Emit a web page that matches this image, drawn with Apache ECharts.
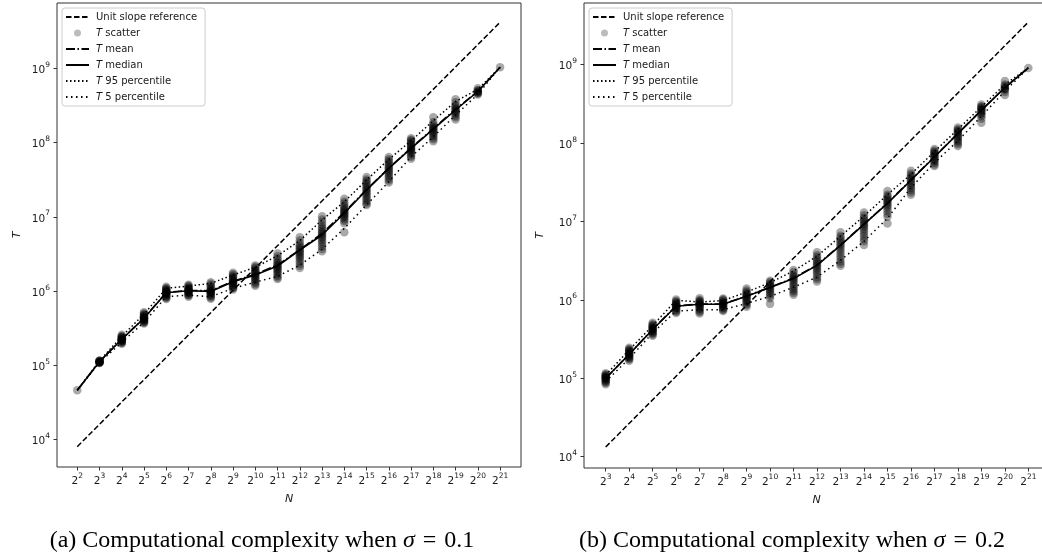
<!DOCTYPE html>
<html><head><meta charset="utf-8">
<script src="https://cdn.jsdelivr.net/npm/echarts@6.0.0/dist/echarts.min.js"></script>
<style>html,body{margin:0;padding:0;background:#fff}#c{width:1042px;height:556px}</style>
</head><body><div id="c"></div><script>
// ---------- data ----------
const nLeft = [4, 8, 16, 32, 64, 128, 256, 512, 1024, 2048, 4096, 8192, 16384, 32768, 65536, 131072, 262144, 524288, 1048576, 2097152];
const nRight = [8, 16, 32, 64, 128, 256, 512, 1024, 2048, 4096, 8192, 16384, 32768, 65536, 131072, 262144, 524288, 1048576, 2097152];
const yTickValues = [1e4, 1e5, 1e6, 1e7, 1e8, 1e9];

// unit slope reference endpoints
const refLeft = [[4, 8.0e3], [2097152, 4.2e9]];
const refRight = [[8, 1.33e4], [2097152, 3.49e9]];

// sigma = 0.1
const medianLeft = [4.6e4, 1.12e5, 2.24e5, 4.3e5, 9.5e5, 1.01e6, 9.9e5, 1.34e6, 1.65e6, 2.18e6, 3.58e6, 5.7e6, 1.12e7, 2.3e7, 4.5e7, 8.4e7, 1.52e8, 2.76e8, 4.9e8, 1.04e9];
const meanLeft = [4.6e4, 1.12e5, 2.25e5, 4.35e5, 9.6e5, 1.02e6, 1.01e6, 1.36e6, 1.68e6, 2.25e6, 3.6e6, 6.0e6, 1.15e7, 2.35e7, 4.55e7, 8.5e7, 1.55e8, 2.85e8, 4.9e8, 1.04e9];
const p95Left = [4.6e4, 1.15e5, 2.45e5, 4.9e5, 1.09e6, 1.17e6, 1.27e6, 1.65e6, 2.09e6, 3.0e6, 4.8e6, 9.1e6, 1.6e7, 3.14e7, 5.97e7, 1.06e8, 1.98e8, 3.6e8, 5.25e8, 1.04e9];
const p5Left = [4.6e4, 1.09e5, 2.04e5, 3.8e5, 8.4e5, 8.85e5, 8.4e5, 1.09e6, 1.32e6, 1.58e6, 2.24e6, 3.66e6, 7.0e6, 1.45e7, 2.98e7, 6.46e7, 1.2e8, 2.36e8, 4.49e8, 1.04e9];
const scatterLeft = [
  [4.6e4],
  [1.07e5, 1.08e5, 1.09e5, 1.10e5, 1.11e5, 1.12e5, 1.12e5, 1.13e5, 1.14e5, 1.15e5, 1.16e5],
  [1.95e5, 2.0e5, 2.05e5, 2.09e5, 2.12e5, 2.15e5, 2.18e5, 2.21e5, 2.24e5, 2.27e5, 2.30e5, 2.34e5, 2.38e5, 2.43e5, 2.48e5, 2.57e5],
  [3.65e5, 3.75e5, 3.85e5, 3.93e5, 4.0e5, 4.08e5, 4.15e5, 4.22e5, 4.3e5, 4.37e5, 4.45e5, 4.52e5, 4.6e5, 4.72e5, 4.85e5, 5.0e5, 5.2e5],
  [7.8e5, 8.1e5, 8.3e5, 8.55e5, 8.8e5, 9.0e5, 9.2e5, 9.35e5, 9.5e5, 9.65e5, 9.8e5, 1.0e6, 1.02e6, 1.05e6, 1.07e6, 1.1e6, 1.14e6],
  [8.4e5, 8.7e5, 8.9e5, 9.15e5, 9.4e5, 9.6e5, 9.8e5, 9.95e5, 1.01e6, 1.025e6, 1.04e6, 1.06e6, 1.08e6, 1.11e6, 1.14e6, 1.18e6, 1.22e6],
  [7.9e5, 8.2e5, 8.5e5, 8.8e5, 9.1e5, 9.35e5, 9.6e5, 9.75e5, 9.9e5, 1.01e6, 1.03e6, 1.06e6, 1.1e6, 1.15e6, 1.2e6, 1.26e6, 1.32e6],
  [1.05e6, 1.09e6, 1.12e6, 1.16e6, 1.2e6, 1.24e6, 1.28e6, 1.31e6, 1.34e6, 1.37e6, 1.4e6, 1.45e6, 1.5e6, 1.56e6, 1.62e6, 1.69e6, 1.76e6],
  [1.18e6, 1.24e6, 1.3e6, 1.36e6, 1.42e6, 1.48e6, 1.54e6, 1.6e6, 1.65e6, 1.7e6, 1.75e6, 1.81e6, 1.88e6, 1.96e6, 2.05e6, 2.13e6, 2.22e6],
  [1.46e6, 1.53e6, 1.6e6, 1.69e6, 1.78e6, 1.86e6, 1.95e6, 2.02e6, 2.1e6, 2.18e6, 2.25e6, 2.35e6, 2.45e6, 2.6e6, 2.75e6, 2.95e6, 3.2e6],
  [2.05e6, 2.2e6, 2.35e6, 2.52e6, 2.7e6, 2.85e6, 3.0e6, 3.15e6, 3.3e6, 3.45e6, 3.6e6, 3.78e6, 3.95e6, 4.15e6, 4.4e6, 4.8e6, 5.3e6],
  [3.45e6, 3.7e6, 4.0e6, 4.3e6, 4.6e6, 4.9e6, 5.2e6, 5.45e6, 5.7e6, 5.95e6, 6.2e6, 6.55e6, 6.9e6, 7.3e6, 7.8e6, 8.5e6, 9.2e6, 1.02e7],
  [6.2e6, 8.2e6, 8.8e6, 9.3e6, 9.8e6, 1.02e7, 1.06e7, 1.1e7, 1.14e7, 1.18e7, 1.23e7, 1.28e7, 1.34e7, 1.4e7, 1.5e7, 1.6e7, 1.75e7],
  [1.45e7, 1.52e7, 1.6e7, 1.7e7, 1.8e7, 1.9e7, 2.0e7, 2.1e7, 2.2e7, 2.3e7, 2.4e7, 2.5e7, 2.6e7, 2.75e7, 2.9e7, 3.05e7, 3.2e7, 3.45e7],
  [2.9e7, 3.1e7, 3.3e7, 3.5e7, 3.7e7, 3.9e7, 4.1e7, 4.3e7, 4.5e7, 4.7e7, 4.9e7, 5.15e7, 5.4e7, 5.7e7, 6.0e7, 6.4e7],
  [6.1e7, 6.45e7, 6.8e7, 7.15e7, 7.5e7, 7.75e7, 8.0e7, 8.25e7, 8.5e7, 8.75e7, 9.0e7, 9.4e7, 9.8e7, 1.02e8, 1.06e8, 1.1e8, 1.15e8],
  [1.05e8, 1.11e8, 1.18e8, 1.24e8, 1.3e8, 1.36e8, 1.42e8, 1.47e8, 1.52e8, 1.57e8, 1.62e8, 1.7e8, 1.78e8, 1.9e8, 2.2e8],
  [2.05e8, 2.2e8, 2.3e8, 2.45e8, 2.55e8, 2.65e8, 2.75e8, 2.85e8, 2.95e8, 3.1e8, 3.2e8, 3.5e8, 3.85e8],
  [4.45e8, 4.6e8, 4.7e8, 4.8e8, 4.9e8, 5.0e8, 5.1e8, 5.4e8],
  [1.04e9]
];

// sigma = 0.2
const medianRight = [1.0e5, 2.02e5, 4.2e5, 8.3e5, 8.8e5, 8.8e5, 1.11e6, 1.44e6, 1.87e6, 2.76e6, 4.97e6, 9.2e6, 1.7e7, 3.36e7, 6.65e7, 1.32e8, 2.62e8, 5.1e8, 9.1e8];
const meanRight = [1.0e5, 2.03e5, 4.22e5, 8.4e5, 8.85e5, 8.85e5, 1.12e6, 1.45e6, 1.9e6, 2.8e6, 5.0e6, 9.3e6, 1.72e7, 3.4e7, 6.7e7, 1.33e8, 2.63e8, 5.1e8, 9.1e8];
const p95Right = [1.1e5, 2.3e5, 4.7e5, 9.9e5, 9.4e5, 9.8e5, 1.26e6, 1.66e6, 2.34e6, 3.6e6, 6.5e6, 1.17e7, 2.2e7, 4.0e7, 7.8e7, 1.5e8, 2.9e8, 5.6e8, 9.1e8];
const p5Right = [9.1e4, 1.78e5, 3.8e5, 7.2e5, 7.5e5, 7.5e5, 9.0e5, 1.11e6, 1.45e6, 1.95e6, 3.2e6, 5.6e6, 1.1e7, 2.7e7, 5.6e7, 1.07e8, 2.2e8, 4.6e8, 9.1e8];
const scatterRight = [
  [8.4e4, 8.8e4, 9.0e4, 9.3e4, 9.5e4, 9.7e4, 1.0e5, 1.01e5, 1.03e5, 1.05e5, 1.07e5, 1.1e5, 1.12e5, 1.16e5],
  [1.68e5, 1.75e5, 1.8e5, 1.85e5, 1.9e5, 1.95e5, 2.0e5, 2.04e5, 2.08e5, 2.13e5, 2.18e5, 2.24e5, 2.3e5, 2.37e5, 2.45e5],
  [3.5e5, 3.62e5, 3.75e5, 3.85e5, 3.95e5, 4.05e5, 4.15e5, 4.22e5, 4.3e5, 4.4e5, 4.5e5, 4.62e5, 4.75e5, 4.9e5, 5.1e5],
  [6.8e5, 7.05e5, 7.3e5, 7.55e5, 7.8e5, 8.0e5, 8.2e5, 8.35e5, 8.5e5, 8.7e5, 8.9e5, 9.15e5, 9.4e5, 9.7e5, 1.01e6],
  [6.7e5, 7.0e5, 7.3e5, 7.6e5, 7.9e5, 8.15e5, 8.4e5, 8.6e5, 8.8e5, 9.0e5, 9.2e5, 9.45e5, 9.7e5, 1.0e6, 1.05e6],
  [7.2e5, 7.45e5, 7.7e5, 7.95e5, 8.2e5, 8.4e5, 8.6e5, 8.75e5, 8.9e5, 9.1e5, 9.3e5, 9.55e5, 9.8e5, 1.01e6, 1.04e6],
  [8.2e5, 8.6e5, 9.0e5, 9.4e5, 9.8e5, 1.01e6, 1.05e6, 1.08e6, 1.11e6, 1.14e6, 1.18e6, 1.22e6, 1.26e6, 1.32e6, 1.4e6],
  [8.9e5, 1.05e6, 1.12e6, 1.18e6, 1.24e6, 1.3e6, 1.36e6, 1.42e6, 1.47e6, 1.52e6, 1.57e6, 1.62e6, 1.69e6, 1.76e6],
  [1.16e6, 1.23e6, 1.3e6, 1.37e6, 1.45e6, 1.53e6, 1.62e6, 1.7e6, 1.8e6, 1.87e6, 1.95e6, 2.02e6, 2.1e6, 2.25e6, 2.4e6],
  [1.72e6, 1.83e6, 1.95e6, 2.1e6, 2.25e6, 2.38e6, 2.5e6, 2.62e6, 2.75e6, 2.88e6, 3.0e6, 3.15e6, 3.3e6, 3.5e6, 3.7e6, 4.05e6],
  [2.72e6, 2.9e6, 3.1e6, 3.35e6, 3.6e6, 3.9e6, 4.2e6, 4.5e6, 4.8e6, 5.05e6, 5.3e6, 5.6e6, 5.9e6, 6.25e6, 6.6e6, 7.3e6],
  [5.0e6, 5.6e6, 6.0e6, 6.5e6, 7.0e6, 7.5e6, 8.0e6, 8.5e6, 8.9e6, 9.3e6, 9.7e6, 1.02e7, 1.07e7, 1.12e7, 1.2e7, 1.3e7],
  [9.4e6, 1.15e7, 1.25e7, 1.35e7, 1.45e7, 1.55e7, 1.62e7, 1.7e7, 1.78e7, 1.85e7, 1.92e7, 2.0e7, 2.1e7, 2.2e7, 2.45e7],
  [2.2e7, 2.35e7, 2.5e7, 2.65e7, 2.8e7, 2.95e7, 3.1e7, 3.25e7, 3.4e7, 3.55e7, 3.7e7, 3.9e7, 4.1e7, 4.45e7],
  [5.1e7, 5.35e7, 5.6e7, 5.85e7, 6.1e7, 6.35e7, 6.6e7, 6.8e7, 7.0e7, 7.25e7, 7.5e7, 7.75e7, 8.0e7, 8.4e7],
  [9.2e7, 9.7e7, 1.02e8, 1.07e8, 1.12e8, 1.17e8, 1.22e8, 1.27e8, 1.32e8, 1.37e8, 1.42e8, 1.46e8, 1.5e8, 1.58e8],
  [1.82e8, 2.05e8, 2.2e8, 2.3e8, 2.4e8, 2.5e8, 2.58e8, 2.65e8, 2.72e8, 2.8e8, 2.88e8, 2.95e8, 3.1e8],
  [4.1e8, 4.5e8, 4.8e8, 4.9e8, 5.0e8, 5.2e8, 5.4e8, 5.6e8, 6.2e8],
  [9.1e8]
];

const seriesNames = ['Unit slope reference', 'T scatter', 'T mean', 'T median', 'T 95 percentile', 'T 5 percentile'];
const captions = ['(a) Computational complexity when {i|σ}\u2004=\u20040.1', '(b) Computational complexity when {i|σ}\u2004=\u20040.2'];

// ---------- chart ----------
const FONT = 'DejaVu Sans';
const TXT = '#1a1a1a';
const DOT = 'rgba(0,0,0,0.42)';

function pairs(ns, vals) { return ns.map((n, i) => [n, vals[i]]); }
function scatterPairs(ns, groups) {
  const out = [];
  groups.forEach((g, i) => g.forEach(v => out.push([ns[i], v])));
  return out;
}

function xAxisFor(gi, minE, maxE, ticks) {
  return {
    type: 'log', logBase: 2, gridIndex: gi,
    min: Math.pow(2, minE), max: Math.pow(2, maxE),
    name: 'N', nameLocation: 'middle', nameGap: 27,
    nameTextStyle: { fontFamily: FONT, fontStyle: 'italic', fontSize: 11, color: TXT },
    axisLine: { show: false }, splitLine: { show: false },
    axisTick: { show: true, length: 3.5, lineStyle: { color: '#333', width: 1 }, customValues: ticks },
    axisLabel: {
      customValues: ticks, margin: 5, hideOverlap: false,
      formatter: v => '{b|2}{s|' + Math.round(Math.log2(v)) + '}',
      rich: {
        b: { fontFamily: FONT, fontSize: 10.5, color: TXT, lineHeight: 15, verticalAlign: 'bottom' },
        s: { fontFamily: FONT, fontSize: 7.5, color: TXT, lineHeight: 9, verticalAlign: 'top' }
      }
    }
  };
}
function yAxisFor(gi, minE, maxE, gap) {
  return {
    type: 'log', logBase: 10, gridIndex: gi,
    min: Math.pow(10, minE), max: Math.pow(10, maxE),
    name: 'T', nameLocation: 'middle', nameGap: gap,
    nameTextStyle: { fontFamily: FONT, fontStyle: 'italic', fontSize: 11, color: TXT },
    axisLine: { show: false }, splitLine: { show: false },
    axisTick: { show: true, length: 3.5, lineStyle: { color: '#333', width: 1 }, customValues: yTickValues },
    axisLabel: {
      customValues: yTickValues, margin: 7, hideOverlap: false,
      formatter: v => '{b|10}{s|' + Math.round(Math.log10(v)) + '}',
      rich: {
        b: { fontFamily: FONT, fontSize: 10.5, color: TXT, lineHeight: 15, verticalAlign: 'bottom' },
        s: { fontFamily: FONT, fontSize: 7.5, color: TXT, lineHeight: 9, verticalAlign: 'top' }
      }
    }
  };
}
function panelSeries(gi, ns, ref, sc, mean, med, p95, p5) {
  const base = { xAxisIndex: gi, yAxisIndex: gi, symbol: 'none', showSymbol: false, silent: true, clip: true,
    itemStyle: { color: 'rgba(0,0,0,0)' } };
  return [
    Object.assign({ type: 'line', name: seriesNames[0], data: ref, lineStyle: { color: '#000', width: 1.5, type: [5.5, 2.5] } }, base),
    { type: 'scatter', name: seriesNames[1], xAxisIndex: gi, yAxisIndex: gi, symbol: 'circle', symbolSize: 8.5, silent: true,
      itemStyle: { color: DOT }, data: scatterPairs(ns, sc) },
    Object.assign({ type: 'line', name: seriesNames[2], data: pairs(ns, mean), lineStyle: { color: '#000', width: 1.6, type: [9, 2.5, 1.5, 2.5] } }, base),
    Object.assign({ type: 'line', name: seriesNames[3], data: pairs(ns, med), lineStyle: { color: '#000', width: 1.6 } }, base),
    Object.assign({ type: 'line', name: seriesNames[4], data: pairs(ns, p95), lineStyle: { color: '#000', width: 1.5, type: [1.5, 2.5] } }, base),
    Object.assign({ type: 'line', name: seriesNames[5], data: pairs(ns, p5), lineStyle: { color: '#000', width: 1.5, type: [1.5, 3.5] } }, base)
  ];
}
function legendFor(left) {
  return {
    left: left, top: 8, orient: 'vertical', itemWidth: 23, itemHeight: 7, itemGap: 4,
    padding: [3, 8, 3, 3], backgroundColor: 'rgba(255,255,255,0.8)', borderColor: '#cccccc', borderWidth: 1, borderRadius: 3,
    selectedMode: false,
    data: seriesNames.map(n => n === 'T scatter'
      ? { name: n, icon: 'circle', itemStyle: { color: 'rgba(0,0,0,0.33)' } }
      : { name: n, itemStyle: { opacity: 0 } }),
    formatter: n => n.startsWith('T ') ? '{i|T}' + n.slice(1) : n,
    textStyle: { fontFamily: FONT, fontSize: 10, color: TXT, lineHeight: 12, padding: [0, 0, 0, 2],
      rich: { i: { fontFamily: FONT, fontSize: 10, fontStyle: 'italic', color: TXT, lineHeight: 12 } } }
  };
}

const chart = echarts.init(document.getElementById('c'), null, { renderer: 'canvas' });
chart.setOption({
  animation: false,
  backgroundColor: '#fff',
  grid: [
    { left: 57, top: 3, width: 464, height: 464, show: true, borderColor: '#333', borderWidth: 1, backgroundColor: 'transparent', outerBoundsMode: 'none', containLabel: false },
    { left: 584, top: 3, width: 465, height: 465, show: true, borderColor: '#333', borderWidth: 1, backgroundColor: 'transparent', outerBoundsMode: 'none', containLabel: false }
  ],
  xAxis: [xAxisFor(0, 1.09, 21.94, nLeft), xAxisFor(1, 2.076, 21.88, nRight)],
  yAxis: [yAxisFor(0, 3.629, 9.883, 34), yAxisFor(1, 3.856, 9.787, 38)],
  legend: [legendFor(62), legendFor(589)],
  series: [].concat(
    panelSeries(0, nLeft, refLeft, scatterLeft, meanLeft, medianLeft, p95Left, p5Left),
    panelSeries(1, nRight, refRight, scatterRight, meanRight, medianRight, p95Right, p5Right)
  ),
  graphic: captions.map((t, i) => ({
    type: 'text', x: i === 0 ? 262 : 792, y: 541,
    style: { text: t, align: 'center', verticalAlign: 'middle', fill: '#000',
      font: '24px "Liberation Serif"',
      rich: { i: { fontFamily: 'Liberation Serif', fontSize: 24, fontStyle: 'italic', fill: '#000' } } }
  }))
});
</script></body></html>
